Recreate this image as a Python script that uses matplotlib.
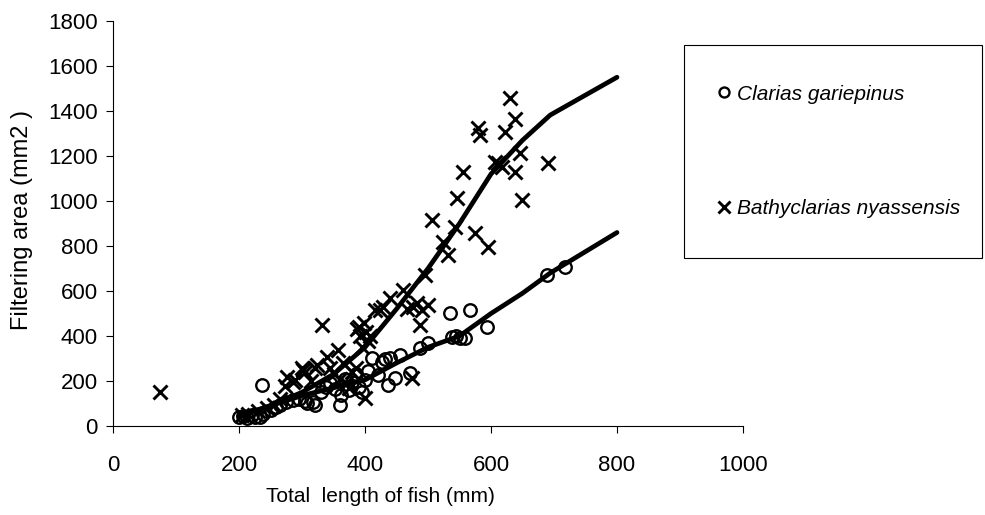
import matplotlib.pyplot as plt

plt.rcParams['font.family'] = ['Liberation Sans', 'DejaVu Sans']

# Clarias gariepinus (circles)
clarias_x = [200, 207, 213, 220, 225, 233, 238, 237, 250, 258, 265, 275, 285, 295, 305, 308,
             318, 320, 330, 338, 345, 352, 360, 362, 368, 375, 380, 385, 390, 395, 400, 405,
             411, 420, 427, 432, 437, 440, 448, 456, 471, 487, 500, 535, 538, 545, 551, 559,
             567, 594, 689, 717]
clarias_y = [40, 45, 36, 50, 40, 42, 55, 182, 70, 85, 95, 105, 115, 120, 110, 102,
             105, 95, 150, 175, 190, 165, 93, 140, 210, 160, 195, 230, 175, 150, 205, 245,
             302, 225, 284, 296, 182, 302, 213, 316, 236, 347, 369, 502, 396, 400, 391, 391,
             516, 440, 671, 707]

# Bathyclarias nyassensis (crosses)
bathy_x = [75, 205, 215, 230, 245, 255, 265, 273, 276, 286, 289, 300, 302, 305, 315, 321,
           324, 332, 340, 345, 350, 357, 360, 365, 370, 375, 380, 385, 387, 390, 392, 395,
           398, 400, 402, 405, 408, 416, 424, 429, 440, 460, 467, 475, 476, 483, 487, 490,
           495, 500, 506, 524, 532, 543, 546, 556, 575, 579, 583, 595, 606, 611, 617, 622,
           630, 638, 638, 646, 649, 690]
bathy_y = [151, 50, 55, 65, 80, 95, 120, 180, 218, 196, 204, 258, 250, 240, 200, 258,
           271, 449, 307, 260, 230, 338, 210, 280, 190, 170, 240, 260, 430, 440, 400, 350,
           460, 124, 420, 380, 400, 516, 516, 529, 569, 604, 520, 213, 530, 547, 449, 516,
           671, 538, 916, 818, 760, 884, 1013, 1129, 858, 1324, 1293, 796, 1173, 1169, 1151, 1307,
           1458, 1364, 1129, 1213, 1004, 1169]

# trend lines
trend_x = [200, 250, 300, 350, 400, 450, 500, 550, 600, 650, 694, 800]
bathy_trend = [45, 90, 150, 230, 350, 520, 700, 900, 1120, 1270, 1382, 1550]
clarias_trend = [45, 90, 135, 170, 205, 280, 350, 400, 500, 590, 680, 860]

fig = plt.figure(figsize=(9.85, 5.15), dpi=100)
ax = fig.add_axes([113 / 985, 89 / 515, 630 / 985, 405 / 515])

ax.plot(clarias_x, clarias_y, linestyle='none', marker='o', markersize=9,
        markerfacecolor='none', markeredgecolor='black', markeredgewidth=1.7,
        label='Clarias gariepinus')
ax.plot(bathy_x, bathy_y, linestyle='none', marker='x', markersize=10,
        color='black', markeredgewidth=2.1, label='Bathyclarias nyassensis')

ax.plot(trend_x, bathy_trend, color='black', linewidth=3.4, solid_capstyle='round')
ax.plot(trend_x, clarias_trend, color='black', linewidth=3.4, solid_capstyle='round')

ax.set_xlim(0, 1000)
ax.set_ylim(0, 1800)
ax.set_xticks(range(0, 1001, 200))
ax.set_yticks(range(0, 1801, 200))
ax.spines['top'].set_visible(False)
ax.spines['right'].set_visible(False)
ax.spines['left'].set_linewidth(0.8)
ax.spines['bottom'].set_linewidth(0.8)
ax.tick_params(axis='x', direction='out', length=5, pad=16, labelsize=16)
ax.tick_params(axis='y', direction='out', length=5, pad=6, labelsize=16)

fig.text(380 / 985, 1 - 497 / 515, 'Total  length of fish (mm)', ha='center',
         va='center', fontsize=15)
fig.text(22 / 985, 1 - 220 / 515, 'Filtering area (mm2 )', ha='center',
         va='center', rotation=90, fontsize=17)

leg = fig.legend(loc='upper left', bbox_to_anchor=(684 / 985, 0, 298 / 985, 1 - 45 / 515),
                 mode='expand', frameon=True, fancybox=False, edgecolor='black',
                 framealpha=1, prop={'style': 'italic', 'size': 15}, handlelength=0,
                 handletextpad=0.65, labelspacing=4.6, borderpad=1.9,
                 borderaxespad=0, markerscale=0.8)
leg.get_frame().set_linewidth(0.8)

fig.savefig('out.png', dpi=100)
